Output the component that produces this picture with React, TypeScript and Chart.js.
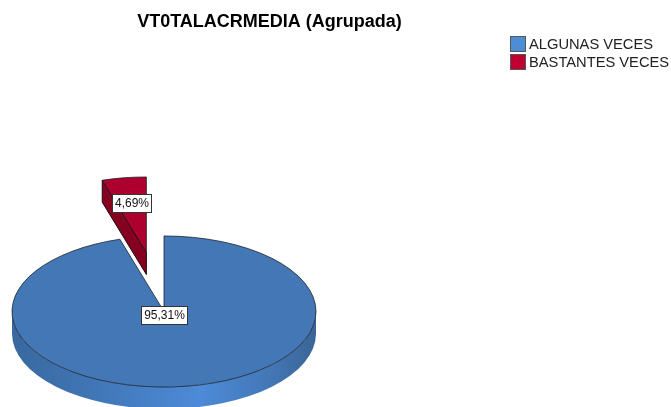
import React, { useEffect, useRef } from "react";
import { Chart, registerables } from "chart.js";

Chart.register(...registerables);

const categories = ["ALGUNAS VECES", "BASTANTES VECES"];
const percentages = [95.31, 4.69];
const percentLabels = ["95,31%", "4,69%"];
const sliceColors = ["#4477B6", "#AE002E"];
const swatchColors = ["#4C8DD6", "#C00030"];
const titleText = "VT0TALACRMEDIA (Agrupada)";

const FONT = '"Liberation Sans", Arial, sans-serif';
const CX = 164;
const CY = 311.5;
const RADIUS = 152;
const SQUASH = 0.497;
const DEPTH = 22;
const EXPLODE = [0, 120];
const LABEL_RADIAL = [0, 0.66];
const LABEL_SHIFT_Y = [3, 0];

const pie3d = {
  id: "pie3d",
  afterLayout(chart: any) {
    if (chart.titleBlock) {
      chart.titleBlock.left = 0;
      chart.titleBlock.right = 539;
    }
  },
  afterDatasetsUpdate(chart: any) {
    // Pull slices out along their own middle angle
    chart.getDatasetMeta(0).data.forEach((arc: any, i: number) => {
      const mid = (arc.startAngle + arc.endAngle) / 2;
      arc.x += Math.cos(mid) * EXPLODE[i];
      arc.y += Math.sin(mid) * EXPLODE[i];
    });
  },
  beforeDatasetsDraw(chart: any) {
    const ctx = chart.ctx;
    const arcs = chart.getDatasetMeta(0).data;
    const ox = arcs[0].x;
    const oy = arcs[0].y;
    const sx = (x: number) => CX + (x - ox);
    const sy = (y: number) => CY + (y - oy) * SQUASH;

    // Front wall of the large slice
    const blue = arcs[0];
    const grad = ctx.createLinearGradient(CX - RADIUS, 0, CX + RADIUS, 0);
    grad.addColorStop(0, "#39689F");
    grad.addColorStop(0.3, "#4178B9");
    grad.addColorStop(0.62, "#4D8AD8");
    grad.addColorStop(0.85, "#4377B6");
    grad.addColorStop(1, "#3A6596");
    ctx.save();
    ctx.beginPath();
    ctx.ellipse(CX, CY, blue.outerRadius, blue.outerRadius * SQUASH, 0, 0, Math.PI);
    ctx.ellipse(CX, CY + DEPTH, blue.outerRadius, blue.outerRadius * SQUASH, 0, Math.PI, 0, true);
    ctx.closePath();
    ctx.fillStyle = grad;
    ctx.fill();
    ctx.restore();

    // Radial wall of the exploded slice
    const red = arcs[1];
    const ax = sx(red.x);
    const ay = sy(red.y);
    const bx = sx(red.x + Math.cos(red.startAngle) * red.outerRadius);
    const by = sy(red.y + Math.sin(red.startAngle) * red.outerRadius);
    ctx.save();
    ctx.beginPath();
    ctx.moveTo(bx, by);
    ctx.lineTo(bx, by + DEPTH);
    ctx.lineTo(ax, ay + DEPTH);
    ctx.lineTo(ax, ay);
    ctx.closePath();
    ctx.fillStyle = "#86001F";
    ctx.strokeStyle = "#1A0A10";
    ctx.lineWidth = 1;
    ctx.fill();
    ctx.stroke();
    ctx.restore();

    // Squash the library's own slices
    ctx.save();
    ctx.translate(CX, CY);
    ctx.scale(1, SQUASH);
    ctx.translate(-ox, -oy);
  },
  afterDatasetsDraw(chart: any) {
    const ctx = chart.ctx;
    ctx.restore();
    const arcs = chart.getDatasetMeta(0).data;
    const ox = arcs[0].x;
    const oy = arcs[0].y;

    ctx.save();
    ctx.font = `12px ${FONT}`;
    ctx.textAlign = "center";
    ctx.textBaseline = "middle";
    arcs.forEach((arc: any, i: number) => {
      const mid = (arc.startAngle + arc.endAngle) / 2;
      const f = LABEL_RADIAL[i] * arc.outerRadius;
      const px = CX + (arc.x - ox) + Math.cos(mid) * f;
      const py = CY + (arc.y - oy + Math.sin(mid) * f) * SQUASH + LABEL_SHIFT_Y[i];
      const w = Math.round(ctx.measureText(percentLabels[i]).width) + 5;
      const h = 18;
      const left = Math.round(px - w / 2);
      const top = Math.round(py - h / 2);
      ctx.fillStyle = "#FFFFFF";
      ctx.fillRect(left, top, w, h);
      ctx.strokeStyle = "#333333";
      ctx.lineWidth = 1;
      ctx.strokeRect(left + 0.5, top + 0.5, w, h);
      ctx.fillStyle = "#111111";
      ctx.fillText(percentLabels[i], left + w / 2 + 0.5, top + h / 2 + 1);
    });
    ctx.restore();

    // Legend
    ctx.save();
    ctx.font = `14.7px ${FONT}`;
    ctx.textAlign = "left";
    ctx.textBaseline = "middle";
    categories.forEach((label, i) => {
      const top = 37 + i * 18;
      ctx.fillStyle = swatchColors[i];
      ctx.fillRect(511, top, 14, 14);
      ctx.strokeStyle = "#555555";
      ctx.lineWidth = 1;
      ctx.strokeRect(510.5, top - 0.5, 15, 15);
      ctx.fillStyle = "#222222";
      ctx.fillText(label, 529, top + 8);
    });
    ctx.restore();
  },
};

export default function App() {
  const ref = useRef<HTMLCanvasElement>(null);
  useEffect(() => {
    const chart = new Chart(ref.current as HTMLCanvasElement, {
      type: "pie",
      data: {
        labels: categories,
        datasets: [
          {
            data: percentages,
            backgroundColor: sliceColors,
            borderColor: "#14181F",
            borderWidth: 1,
            radius: RADIUS,
            clip: false,
          } as any,
        ],
      },
      options: {
        responsive: false,
        animation: false,
        devicePixelRatio: 1,
        plugins: {
          legend: { display: false },
          tooltip: { enabled: false },
          title: {
            display: true,
            text: titleText,
            color: "#000000",
            padding: { top: 11, bottom: 0 },
            font: { family: FONT, size: 18, weight: "bold", lineHeight: 1.2 },
          },
        },
      } as any,
      plugins: [pie3d as any],
    });
    return () => chart.destroy();
  }, []);
  return (
    <canvas
      ref={ref}
      width={671}
      height={407}
      style={{ position: "absolute", left: 0, top: 0, display: "block", background: "#FFFFFF" }}
    />
  );
}
